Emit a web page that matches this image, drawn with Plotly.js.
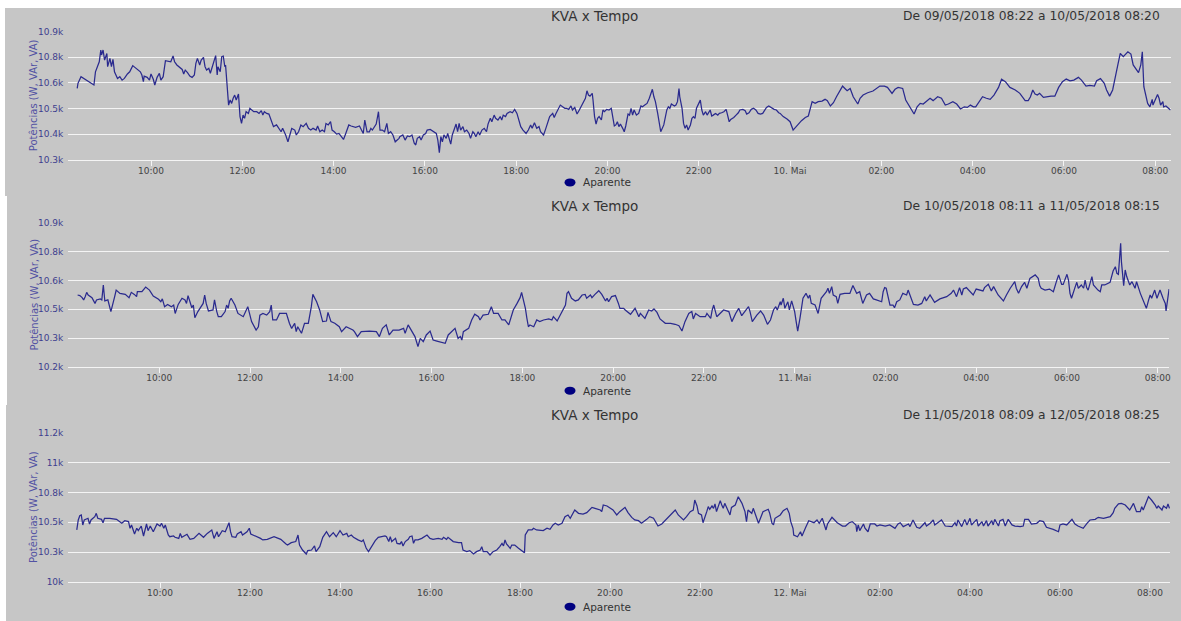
<!DOCTYPE html>
<html><head><meta charset="utf-8">
<script src="https://cdn.plot.ly/plotly-3.0.1.min.js"></script>
<style>html,body{margin:0;padding:0;background:#fff}#chart{width:1181px;height:621px}</style>
</head><body><div id="chart"></div>
<script>
// ---------- DATA (minutes after 08:00 of the panel's first day, values in VA) ----------
const P1_T = [
23,24,28,45,47,49,52,54,55,57, 59,62,63,66,68,70,72,76,79,82, 85,89,92,96,100,103,106,108,110,111,
115,118,120,123,125,128,131,133,136,139, 143,146,149,151,154,157,161,163,165,168, 171,174,177,179,181,184,186,189,191,193,
196,198,201,203,205,207,208,211,213,215, 217,218,220,222,224,226,228,230,232,235, 237,239,241,243,245,248,250,252,255,259,
262,265,267,269,272,275,278,281,285,288, 291,293,297,300,302,305,309,311,314,317, 320,324,327,330,333,337,339,342,345,348,
350,353,356,358,361,364,367,370,373,376, 380,383,386,389,394,397,399,401,404,407, 409,411,414,416,419,421,424,427,430,432,
435,438,441,446,
447,451,454,457,460,463,466,468,470,473, 475,478,481,483,487,490,492,495,497,499, 501,503,505,508,510,512,514,516,519,521,
523,525,527,530,532,535,538,540,543,545, 547,550,552,555,558,561,563,566,568,571, 573,576,579,581,583,586,588,592,595,598,
601,604,606,609,613,616,619,621,624,627, 630,632,636,639,641,644,648,650,652,655, 658,661,664,666,669,672,674,677,680,683,
685,688,691,693,695,697,700,701,703,705, 707,709,712,714,716,719,722,725,727,729, 731,733,735,737,740,742,744,747,749,751,
753,755,758,761,764,766,769,772,775,777, 779,781,783,786,788,790,794,796,798,800, 802,804,808,810,812,814,815,818,820,822,
824,826,829,831,833,835,837,840,842,844, 846,849,851,855,857,859,862,865,867,870, 873,876,878,880,882,886,889,892,894,898,
901,903,906,909,912,915,918,921,924,927, 929,932,936,939,942,945,
947,951,956,960,964,967,971,975,980,984, 989,993,997,1002,1006,1009,1013,1017,1021,1026, 1029,1032,1035,1039,1043,1049,1052,1056,1062,1069,
1074,1078,1084,1088,1094,1098,1102,1108,1112,1119, 1123,1127,1131,1135,1140,1144,1148,1154,1159,1164, 1168,1174,1179,1184,1189,1193,1197,1201,1204,1209,
1213,1218,1223,1228,1234,1238,1243,1249,1256,1262, 1269,1273,1276,1279,1282,1285,1288,1293,1297,1303, 1308,1313,1318,1323,1328,1333,1339,1343,1349,1354,
1360,1363,1368,1373,1376,1380,1384,1388,1391,1394, 1398,1404,1408,1411,1415,1418,1421,1423,1425,1427, 1430,1433,1436,1437,1440,1443,1445,1447,1450,1451,
1454,1458,1460
];
const P1_V = [
10634,10658,10689,10650,10712,10728,10759,10814,10791,10814, 10767,10798,10736,10775,10736,10770,10712,10681,10689,10673, 10681,10702,10712,10741,10728,10720,10712,10697,10666,10692,
10686,10673,10702,10677,10650,10686,10705,10673,10689,10764, 10762,10759,10786,10759,10744,10736,10723,10702,10720,10708, 10692,10686,10697,10752,10775,10744,10767,10780,10736,10720,
10728,10705,10744,10775,10788,10697,10736,10712,10783,10786, 10736,10744,10642,10556,10580,10564,10588,10603,10580,10608, 10502,10470,10509,10494,10525,10517,10541,10533,10525,10525,
10517,10530,10509,10525,10517,10514,10486,10455,10463,10447, 10431,10447,10416,10384,10408,10447,10439,10416,10431,10463, 10455,10470,10447,10439,10447,10439,10458,10431,10439,10431,
10470,10463,10478,10439,10431,10420,10423,10408,10395,10423, 10463,10458,10455,10452,10458,10439,10423,10486,10431,10431, 10447,10439,10455,10467,10525,10439,10439,10431,10470,10423,
10431,10416,10384,10400,
10408,10416,10392,10411,10408,10416,10377,10369,10400,10408, 10392,10416,10423,10439,10442,10436,10431,10423,10392,10333, 10408,10384,10416,10400,10423,10395,10373,10416,10447,10467,
10431,10470,10439,10455,10431,10439,10423,10400,10431,10423, 10408,10431,10416,10439,10447,10431,10467,10494,10478,10509, 10494,10486,10502,10486,10509,10502,10517,10525,10520,10536,
10517,10486,10455,10439,10423,10439,10463,10447,10473,10447, 10455,10431,10416,10447,10470,10502,10517,10498,10514,10533, 10556,10548,10541,10541,10536,10552,10533,10545,10514,10533,
10548,10564,10588,10623,10603,10598,10611,10580,10502,10467, 10494,10502,10486,10533,10525,10536,10533,10541,10494,10458, 10463,10478,10455,10467,10447,10431,10458,10514,10509,10541,
10509,10533,10509,10517,10552,10548,10556,10564,10588,10611, 10630,10595,10572,10517,10463,10431,10463,10502,10533,10548, 10541,10561,10552,10556,10572,10634,10595,10541,10470,10447,
10463,10439,10463,10494,10502,10494,10541,10564,10580,10533, 10509,10525,10509,10533,10505,10509,10517,10509,10517,10520, 10525,10536,10509,10478,10489,10498,10509,10520,10533,10536,
10530,10514,10520,10536,10541,10533,10517,10514,10517,10533, 10545,10552,10541,10536,10533,10520,
10517,10502,10491,10478,10439,10452,10467,10483,10498,10505, 10572,10564,10572,10575,10583,10577,10552,10567,10595,10623, 10645,10634,10623,10634,10595,10561,10588,10603,10614,10622,
10634,10645,10645,10639,10611,10630,10639,10634,10580,10541, 10514,10548,10564,10561,10577,10588,10577,10595,10588,10556, 10561,10572,10561,10538,10548,10545,10556,10548,10548,10572,
10595,10588,10583,10603,10639,10677,10666,10639,10627,10611, 10577,10577,10595,10627,10608,10603,10611,10592,10595,10598, 10598,10639,10666,10678,10670,10673,10686,10673,10645,10648,
10645,10670,10680,10658,10627,10598,10627,10689,10748,10798, 10783,10806,10795,10744,10720,10708,10744,10806,10642,10603, 10564,10548,10583,10556,10580,10606,10588,10556,10572,10548,
10552,10541,10533
];

const P2_T = [
12,15,18,20,22,24,26,31,35,37, 42,44,46,48,52,56,61,63,68,75, 80,83,87,90,91,97,102,107,112,119,
122,124,127,131,136,139,141,145,150,154, 156,158,163,165,167,171,178,180,182,185, 191,193,196,198,202,207,209,211,213,215,
220,224,231,237,242,246,248,251,253,257, 262,266,268,270,275,279,284,288,292,295, 299,301,303,308,312,317,321,323,328,332,
336,341,343,347,352,358,361,367,376,378, 382,387,398,407,411,415,420,424,429,437,
443,445,449,454,458,462,465,469,473,478, 482,487,493,498,502,509,511,515,518,520, 522,529,533,537,542,544,548,555,559,562,
568,573,577,582,584,588,593,597,599,601, 604,606,608,610,615,619,623,628,635,639, 641,646,650,654,657,659,661,665,670,674,
679,683,685,690,692,696,701,705,710,712, 714,718,723,727,729,734,736,743,747,749, 754,756,762,767,771,774,778,782,789,796,
802,807,811,815,820,824,826,829,835,842, 844,849,851,853,857,862,866,873,877,882, 886,890,897,899,901,904,910,915,919,924,
928,932,935,937,941,
942,945,947,951,953,956,960,962,964,967, 971,975,978,980,982,987,991,995,1002,1004, 1006,1009,1011,1015,1017,1020,1026,1033,1037,1042,
1046,1050,1055,1059,1064,1068,1073,1075,1077,1079, 1081,1086,1090,1092,1095,1099,1103,1108,1110,1114, 1117,1123,1128,1132,1134,1139,1145,1152,1161,1167,
1170,1174,1178,1181,1183,1187,1194,1196,1200,1205, 1209,1211,1216,1220,1223,1229,1234,1236,1240,1245, 1251,1253,1256,1260,1264,1267,1271,1278,1282,1284,
1286,1291,1297,1302,1306,1309,1313,1315,1320,1322, 1324,1326,1331,1333,1335,1339,1342,1344,1346,1348, 1353,1355,1361,1364,1366,1370,1377,1381,1384,1386,
1388,1390,1391,1392,1395,1397,1399,1403,1406,1410, 1412,1417,1421,1425,1428,1430,1432,1436,1439,1443, 1447,1450,1451,1453,1454,1455
];
const P2_V = [
10550,10547,10537,10526,10542,10563,10550,10537,10509,10526, 10531,10526,10599,10521,10526,10469,10542,10574,10558,10553, 10537,10563,10553,10542,10566,10566,10589,10574,10545,10529,
10517,10531,10493,10504,10493,10501,10460,10504,10534,10526, 10509,10547,10488,10501,10439,10469,10509,10550,10509,10472, 10477,10526,10469,10444,10444,10469,10501,10485,10521,10534,
10501,10460,10444,10493,10420,10387,10379,10395,10452,10460, 10452,10469,10501,10428,10428,10460,10460,10460,10412,10387, 10412,10371,10395,10363,10412,10412,10493,10553,10517,10477,
10420,10423,10465,10420,10412,10395,10371,10395,10379,10371, 10347,10371,10374,10371,10347,10387,10404,10355,10379,10379,
10387,10363,10404,10371,10347,10298,10338,10322,10355,10374, 10330,10325,10319,10314,10355,10379,10387,10338,10347,10330, 10371,10387,10428,10456,10444,10428,10452,10456,10493,10460,
10460,10428,10428,10404,10428,10477,10509,10537,10563,10534, 10485,10436,10395,10404,10395,10428,10420,10428,10433,10428, 10444,10423,10452,10477,10501,10558,10566,10534,10521,10526,
10550,10553,10534,10550,10537,10553,10571,10553,10521,10534, 10517,10542,10547,10509,10485,10485,10477,10456,10477,10485, 10444,10460,10436,10477,10472,10482,10465,10433,10412,10412,
10407,10400,10374,10420,10460,10469,10433,10460,10444,10444, 10460,10436,10477,10501,10444,10460,10477,10469,10420,10460, 10485,10449,10482,10493,10469,10420,10452,10472,10452,10407,
10428,10477,10493,10477,10517,
10501,10534,10485,10517,10477,10521,10469,10420,10374,10436, 10534,10558,10534,10550,10509,10501,10460,10534,10566,10583, 10558,10591,10550,10542,10509,10553,10558,10558,10596,10558,
10566,10509,10550,10558,10531,10526,10521,10517,10566,10586, 10583,10501,10501,10488,10517,10526,10558,10550,10574,10534, 10504,10501,10509,10542,10521,10550,10514,10531,10542,10558,
10574,10542,10586,10550,10579,10586,10558,10550,10579,10574, 10570,10586,10602,10570,10591,10550,10531,10521,10550,10583, 10615,10583,10558,10591,10612,10583,10631,10648,10631,10596,
10583,10574,10579,10566,10615,10648,10602,10602,10651,10623, 10558,10534,10591,10612,10583,10599,10583,10623,10586,10574, 10640,10599,10574,10566,10599,10599,10612,10667,10688,10656,
10651,10737,10802,10713,10596,10672,10640,10599,10615,10583, 10615,10558,10517,10485,10526,10550,10534,10574,10534,10574, 10534,10509,10472,10534,10574,10579
];

const P3_T = [
9,11,13,15,17,19,24,26,28,33, 35,37,42,44,46,53,62,69,73,78, 80,82,86,89,91,95,98,102,104,107,
111,116,120,122,125,127,131,133,138,140, 145,147,149,156,160,165,172,178,183,189, 192,196,198,203,207,212,214,216,221,223,
228,230,236,239,241,248,254,257,263,272, 281,288,290,295,301,304,306,310,315,317, 322,326,328,333,337,342,346,351,355,360,
364,369,371,375,378,384,389,391,395,398, 402,407,411,420,422,425,427,429,434,436, 440,
442,444,447,451,453,456,458,460,464,469, 476,480,484,491,496,498,502,504,511,518, 522,524,529,533,538,542,547,549,551,556,
560,564,569,573,576,578,580,582,587,589, 593,598,602,606,607,611,616,618,622,627, 631,636,640,644,647,651,656,660,664,667,
671,673,678,684,689,696,700,707,709,711, 716,720,724,729,733,740,744,749,753,758, 762,769,773,778,784,789,793,800,807,811,
818,822,827,831,833,836,838,842,844,849, 851,853,856,858,860,862,867,869,871,873, 880,882,887,891,896,900,902,904,909,911,
918,924,931,933,936,938,940,947,
951,956,959,961,964,965,970,974,976,981, 985,992,996,999,1003,1008,1010,1016,1023,1030, 1034,1039,1043,1048,1049,1051,1053,1058,1060,1064,
1067,1073,1076,1080,1087,1093,1100,1104,1107,1111, 1118,1120,1124,1129,1133,1140,1142,1147,1151,1153, 1160,1162,1167,1171,1176,1180,1182,1184,1189,1193,
1196,1200,1202,1209,1211,1216,1218,1222,1224,1229, 1231,1233,1238,1240,1244,1247,1251,1256,1260,1267, 1271,1273,1278,1282,1289,1293,1298,1302,1311,1318,
1320,1324,1329,1336,1340,1344,1351,1356,1360,1367, 1371,1378,1387,1391,1393,1398,1402,1407,1411,1413, 1418,1422,1427,1429,1431,1433,1438,1442,1447,1449,
1451,1456,1458,1462,1464,1466
];
const P3_V = [
10436,10520,10556,10562,10478,10520,10534,10486,10520,10548, 10576,10534,10525,10497,10534,10534,10525,10492,10514,10506, 10450,10478,10402,10450,10430,10469,10385,10486,10430,10469,
10421,10486,10469,10492,10450,10478,10393,10379,10385,10374, 10365,10407,10374,10399,10357,10365,10407,10374,10407,10436, 10365,10421,10379,10430,10421,10497,10421,10379,10374,10402,
10421,10393,10421,10450,10402,10385,10365,10352,10357,10379, 10357,10318,10309,10329,10338,10393,10309,10267,10233,10262, 10267,10301,10253,10295,10374,10421,10379,10413,10379,10430,
10393,10407,10379,10393,10374,10352,10338,10352,10281,10253, 10295,10346,10374,10385,10379,10338,10379,10338,10365,10323, 10318,
10338,10301,10338,10357,10379,10385,10323,10352,10352,10365, 10393,10365,10357,10365,10357,10374,10357,10374,10338,10329, 10329,10267,10253,10262,10233,10253,10267,10295,10253,10253,
10225,10253,10267,10295,10323,10301,10352,10318,10281,10309, 10309,10281,10262,10244,10393,10436,10436,10450,10436,10436, 10430,10450,10441,10478,10492,10478,10492,10548,10562,10534,
10576,10604,10576,10570,10582,10626,10618,10604,10590,10646, 10638,10618,10604,10562,10590,10626,10582,10542,10520,10514, 10492,10525,10548,10534,10469,10486,10514,10562,10604,10562,
10520,10548,10590,10604,10688,10638,10576,10562,10497,10590, 10632,10610,10638,10618,10655,10590,10683,10646,10618,10660, 10562,10626,10646,10716,10660,10590,10506,10604,10576,10618,
10492,10590,10610,10576,10492,10478,10534,10562,
10598,10618,10576,10506,10450,10393,10379,10421,10385,10458, 10514,10497,10520,10492,10534,10436,10486,10542,10497,10469, 10469,10497,10506,10478,10421,10478,10430,10486,10450,10421,
10486,10486,10469,10478,10469,10478,10450,10486,10497,10464, 10486,10464,10520,10458,10450,10497,10469,10492,10520,10478, 10506,10520,10469,10469,10464,10497,10469,10520,10464,10525,
10478,10534,10478,10525,10469,10506,10469,10514,10469,10514, 10478,10525,10469,10514,10525,10469,10525,10478,10469,10464, 10469,10525,10525,10486,10492,10514,10506,10458,10441,10421,
10478,10486,10478,10525,10486,10469,10450,10492,10520,10525, 10542,10534,10548,10582,10618,10655,10660,10646,10618,10604, 10660,10590,10590,10632,10604,10638,10716,10688,10646,10618,
10638,10604,10638,10618,10655,10618
];

const P1_DAY = [2018, 5, 9], P2_DAY = [2018, 5, 10], P3_DAY = [2018, 5, 11];
const TITLE = 'KVA x Tempo';
const SUBTITLES = ['De 09/05/2018 08:22 a 10/05/2018 08:20', 'De 10/05/2018 08:11 a 11/05/2018 08:15', 'De 11/05/2018 08:09 a 12/05/2018 08:25'];
const SERIES_NAME = 'Aparente';
const Y_TITLE = 'Potências (W, VAr, VA)';
const X_LABELS_1 = ['10:00','12:00','14:00','16:00','18:00','20:00','22:00','10. Mai','02:00','04:00','06:00','08:00'];
const X_LABELS_2 = ['10:00','12:00','14:00','16:00','18:00','20:00','22:00','11. Mai','02:00','04:00','06:00','08:00'];
const X_LABELS_3 = ['10:00','12:00','14:00','16:00','18:00','20:00','22:00','12. Mai','02:00','04:00','06:00','08:00'];
const Y_TICKS_1 = [10300,10420,10540,10660,10780,10900];
const Y_LABELS_1 = ['10.3k','10.4k','10.5k','10.6k','10.8k','10.9k'];
const Y_TICKS_2 = [10200,10340,10480,10620,10760,10900];
const Y_LABELS_2 = ['10.2k','10.3k','10.5k','10.6k','10.8k','10.9k'];
const Y_TICKS_3 = [10000,10250,10500,10750,11000,11250];
const Y_LABELS_3 = ['10k','10.3k','10.5k','10.8k','11k','11.2k'];

// ---------- RENDER ----------
const W = 1181, H = 621;
const FONT = 'DejaVu Sans, Verdana, sans-serif';
const LINE = '#2a2a8e', GRID = '#f4f4f4', BG = '#c6c6c6';

function toDate(day, m) {
  const d = new Date(Date.UTC(day[0], day[1] - 1, day[2], 8, 0, 0) + Math.round(m * 60000));
  return d.toISOString().slice(0, 19).replace('T', ' ');
}
const px = v => v / W, py = v => 1 - v / H;

const panels = [
  {T: P1_T, V: P1_V, day: P1_DAY, xl: X_LABELS_1, yt: Y_TICKS_1, yl: Y_LABELS_1, xr: [11.3, 1460.3],
   left: 68.3, right: 1170.7, top: 31.7, bottom: 159.7, titleY: 15.7, legY: 182.4, bg: [5, 8, 196]},
  {T: P2_T, V: P2_V, day: P2_DAY, xl: X_LABELS_2, yt: Y_TICKS_2, yl: Y_LABELS_2, xr: [-0.3, 1455.3],
   left: 68.3, right: 1169.3, top: 223.3, bottom: 366.7, titleY: 206, legY: 390.7, bg: [7, 196, 405]},
  {T: P3_T, V: P3_V, day: P3_DAY, xl: X_LABELS_3, yt: Y_TICKS_3, yl: Y_LABELS_3, xr: [-2.3, 1466.7],
   left: 68.3, right: 1170, top: 433.3, bottom: 581.7, titleY: 415.3, legY: 606.7, bg: [6, 405, 621]}
];

const data = [], shapes = [], annotations = [];
const layout = {
  width: W, height: H, margin: {l: 0, r: 0, t: 0, b: 0, pad: 0},
  paper_bgcolor: '#ffffff', plot_bgcolor: 'rgba(0,0,0,0)', showlegend: false,
  font: {family: FONT, color: '#333'}
};

panels.forEach((p, i) => {
  const n = i + 1, xa = 'xaxis' + (n === 1 ? '' : n), ya = 'yaxis' + (n === 1 ? '' : n);
  const xr = 'x' + (n === 1 ? '' : n), yr = 'y' + (n === 1 ? '' : n);
  data.push({
    x: p.T.map(m => toDate(p.day, m)), y: p.V, xaxis: xr, yaxis: yr,
    type: 'scatter', mode: 'lines', name: SERIES_NAME,
    line: {color: LINE, width: 1.25}, hoverinfo: 'skip'
  });
  layout[xa] = {
    domain: [px(p.left), px(p.right)], anchor: yr, type: 'date',
    range: [toDate(p.day, p.xr[0]), toDate(p.day, p.xr[1])],
    tickvals: p.xl.map((_, k) => toDate(p.day, 120 * (k + 1))), ticktext: p.xl,
    ticks: 'outside', ticklen: 5, tickwidth: 1, tickcolor: GRID, ticklabelstandoff: -3,
    showgrid: false, zeroline: false, showline: true, linecolor: GRID, linewidth: 1,
    tickfont: {family: FONT, size: 9, color: '#444'}, automargin: false, fixedrange: true
  };
  layout[ya] = {
    domain: [py(p.bottom), py(p.top)], anchor: xr, range: [p.yt[0], p.yt[p.yt.length - 1]],
    tickvals: p.yt, ticktext: p.yl, ticks: '', showgrid: true, gridcolor: GRID, gridwidth: 1,
    zeroline: false, showline: false, ticklabelstandoff: 4,
    tickfont: {family: FONT, size: 9, color: '#3e3e8e'}, automargin: false, fixedrange: true
  };
  shapes.push({type: 'rect', xref: 'paper', yref: 'paper', layer: 'below',
    x0: px(p.bg[0]), x1: px(W + 2), y0: py(p.bg[1]), y1: py(p.bg[2]),
    fillcolor: BG, line: {width: 0}});
  shapes.push({type: 'circle', xref: 'paper', yref: 'paper', layer: 'above',
    x0: px(564.5), x1: px(575.5), y0: py(p.legY - 4), y1: py(p.legY + 4),
    fillcolor: '#000080', line: {width: 0}});
  annotations.push({xref: 'paper', yref: 'paper', x: px(595), y: py(p.titleY), text: TITLE,
    showarrow: false, xanchor: 'center', yanchor: 'middle', font: {family: FONT, size: 13.5, color: '#333'}});
  annotations.push({xref: 'paper', yref: 'paper', x: px(1162), y: py(p.titleY), text: SUBTITLES[i],
    showarrow: false, xanchor: 'right', yanchor: 'middle', font: {family: FONT, size: 12.3, color: '#333'}});
  annotations.push({xref: 'paper', yref: 'paper', x: px(580.5), y: py(p.legY), text: SERIES_NAME,
    showarrow: false, xanchor: 'left', yanchor: 'middle', font: {family: FONT, size: 10.5, color: '#333'}});
  annotations.push({xref: 'paper', yref: 'paper', x: px(33.5), y: py((p.top + p.bottom) / 2), text: Y_TITLE,
    textangle: -90, showarrow: false, xanchor: 'center', yanchor: 'middle', font: {family: FONT, size: 10, color: '#5252a3'}});
});
layout.shapes = shapes;
layout.annotations = annotations;

Plotly.newPlot('chart', data, layout, {staticPlot: true, displayModeBar: false});
</script>
</body></html>
